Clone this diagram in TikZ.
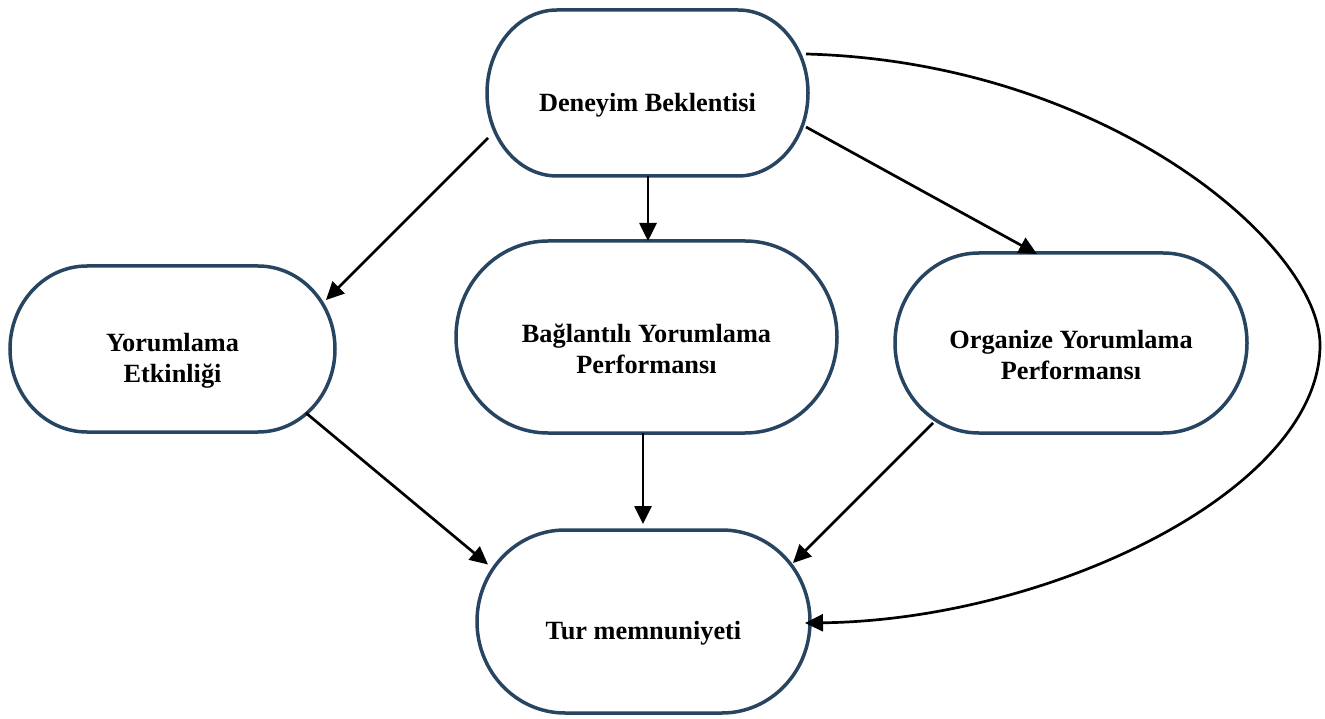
\documentclass[tikz,border=0pt]{standalone}
\usepackage{fontspec}
\setmainfont{Liberation Serif}
\usetikzlibrary{arrows.meta}
\definecolor{pillblue}{RGB}{39,68,97}
\tikzset{
  boxnode/.style={draw=none, inner sep=0pt, outer sep=0pt},
  pillline/.style={draw=pillblue, line width=3.5pt},
  lbl/.style={align=center, font=\fontsize{26.3}{31}\selectfont\bfseries, inner sep=0pt},
  arr/.style={draw=black, line width=2.7pt, -{Triangle[length=18pt,width=17pt]}},
}
\newcommand\drawpill[8]{%
  \node[boxnode, minimum width=#4pt, minimum height=#5pt] (#1) at (#2,#3) {};
  \draw[pillline] ([xshift=#6pt]#1.north west) -- ([xshift=-#6pt]#1.north east)
    arc[start angle=90, end angle=-90, x radius=#6pt, y radius=#7pt]
    -- ([xshift=#6pt]#1.south west)
    arc[start angle=270, end angle=90, x radius=#6pt, y radius=#7pt] -- cycle;
  \node[lbl] (#1-t) at ([yshift=-12pt]#1.center) {#8};
}
\begin{document}
\begin{tikzpicture}[x=1pt, y=-1pt]
  \useasboundingbox (0,0) rectangle (1325,719);
  \drawpill{den}{647.5}{93}{321}{166}{70}{83}{Deneyim Beklentisi}
  \drawpill{ye}{172.5}{349}{325}{166}{77}{83}{Yorumlama\\Etkinliği}
  \drawpill{bag}{646.5}{337}{381}{192}{92}{96}{Bağlantılı Yorumlama\\Performansı}
  \drawpill{org}{1071}{343}{352}{180}{84}{90}{Organize Yorumlama\\Performansı}
  \drawpill{tur}{643.5}{621.5}{333}{183}{88}{91.5}{Tur memnuniyeti}

  \draw[arr] ([shift={(-159.5,45)}]den.center) -- ([shift={(153.5,-49)}]ye.center);
  \draw[arr] ([shift={(0.5,83)}]den.center) -- ([shift={(1.5,-96)}]bag.center);
  \draw[arr] ([shift={(158.5,34)}]den.center) -- ([shift={(-34,-89)}]org.center);
  \draw[arr] ([shift={(133.5,64)}]ye.center) -- ([shift={(-155.5,-57)}]tur.center);
  \draw[arr] ([shift={(-3.5,96)}]bag.center) -- ([shift={(-0.5,-97.5)}]tur.center);
  \draw[arr] ([shift={(-138,80)}]org.center) -- ([shift={(149.5,-58.5)}]tur.center);
  \draw[arr] ([shift={(158.5,-39)}]den.center)
    .. controls (1106,62) and (1320,245) .. (1320,345)
    .. controls (1320,490) and (1050,620) .. ([shift={(161.5,1.5)}]tur.center);
\end{tikzpicture}
\end{document}
